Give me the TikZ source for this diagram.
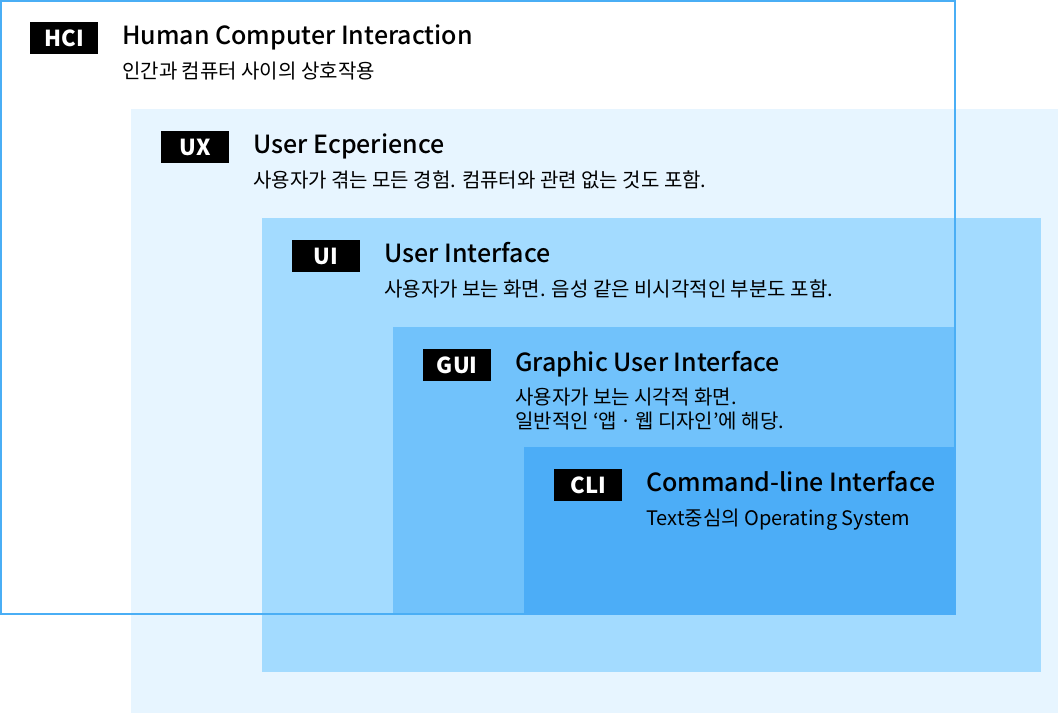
\documentclass[tikz,border=0pt]{standalone}
\usepackage{fontspec}
\setmainfont{Noto Sans CJK KR}
\newfontfamily\titlefont{Noto Sans CJK KR Medium}
\usepackage{tikz}
\definecolor{uxblue}{HTML}{E7F5FF}
\definecolor{uiblue}{HTML}{A3DBFF}
\definecolor{guiblue}{HTML}{71C2FB}
\definecolor{cliblue}{HTML}{4CADF7}
\definecolor{hciline}{HTML}{4AAEF5}

\begin{document}
\begin{tikzpicture}[x=1pt,y=-1pt, line join=miter,
    tag/.style={fill=black, text=white, font=\fontsize{22}{24}\selectfont\bfseries, minimum width=68pt, minimum height=32pt, inner sep=0pt, anchor=north west},
    title/.style={font=\fontsize{25}{28}\selectfont\titlefont, inner sep=0pt, anchor=base west},
    sub/.style={font=\fontsize{20}{24}\selectfont, inner sep=0pt, anchor=base west, align=left}]
                    \useasboundingbox (0,0) rectangle (1058,713);

                    % layers
                    \fill[uxblue] (131,109) rectangle (1058,713);
                    \fill[uiblue] (262,218) rectangle (1041,672);
                    \fill[guiblue] (393,327) rectangle (955,613);
                    \draw[hciline, line width=2pt] (1,1) rectangle (955,614);
                    \fill[cliblue] (524,447) rectangle (956,615);

                    % HCI
                    \node[tag] (hci) at (30,22) {HCI};
                    \node[title] (hcititle) at (122,44) {Human Computer Interaction};
                    \node[sub] (hcisub) at (122,78) {인간과 컴퓨터 사이의 상호작용};

                    % UX
                    \node[tag] (ux) at (161,131) {UX};
                    \node[title] (uxtitle) at (253,153) {User Ecperience};
                    \node[sub] (uxsub) at (253,187) {사용자가 겪는 모든 경험. 컴퓨터와 관련 없는 것도 포함.};

                    % UI
                    \node[tag] (ui) at (292,240) {UI};
                    \node[title] (uititle) at (384,262) {User Interface};
                    \node[sub] (uisub) at (384,296) {사용자가 보는 화면. 음성 같은 비시각적인 부분도 포함.};

                    % GUI
                    \node[tag] (gui) at (423,349) {GUI};
                    \node[title] (guititle) at (515,371) {Graphic User Interface};
                    \node[sub] (guisub) at (515,428) {사용자가 보는 시각적 화면.\\일반적인 ‘앱\,·\,웹 디자인’에 해당.};

                    % CLI
                    \node[tag] (cli) at (554,469) {CLI};
                    \node[title] (clititle) at (646,491) {Command-line Interface};
                    \node[sub] (clisub) at (646,525) {Text중심의 Operating System};
\end{tikzpicture}
\end{document}
